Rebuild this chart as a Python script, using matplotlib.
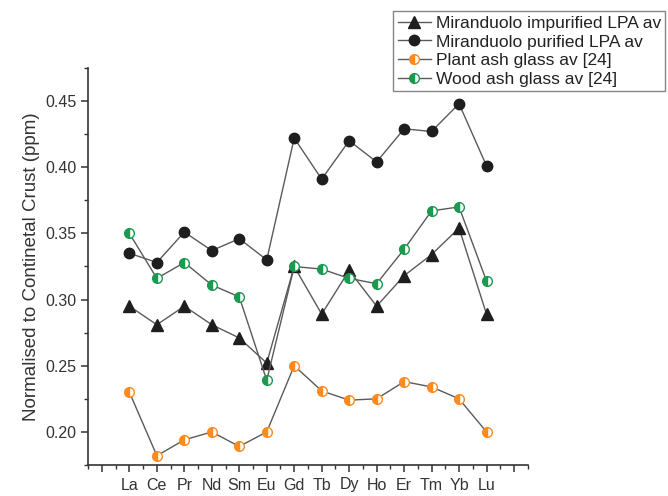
import matplotlib
matplotlib.use("Agg")
import matplotlib.pyplot as plt
from matplotlib.ticker import MultipleLocator

plt.rcParams['font.family'] = ['Liberation Sans', 'DejaVu Sans']

# ---------------------- Data --------------------------- #

elements = ["La", "Ce", "Pr", "Nd", "Sm", "Eu", "Gd", "Tb", "Dy", "Ho", "Er", "Tm", "Yb", "Lu"]

impurified = [0.295, 0.281, 0.295, 0.281, 0.271, 0.252, 0.325, 0.289, 0.322, 0.295, 0.318, 0.334, 0.354, 0.289]
purified = [0.335, 0.328, 0.351, 0.337, 0.346, 0.330, 0.422, 0.391, 0.420, 0.404, 0.429, 0.427, 0.448, 0.401]
plant_ash = [0.230, 0.182, 0.194, 0.200, 0.189, 0.200, 0.250, 0.231, 0.224, 0.225, 0.238, 0.234, 0.225, 0.200]
wood_ash = [0.350, 0.316, 0.328, 0.311, 0.302, 0.239, 0.325, 0.323, 0.316, 0.312, 0.338, 0.367, 0.370, 0.314]

# ---------------------- Plot --------------------------- #

x = list(range(1, len(elements) + 1))
LINE = '#5a5a5a'
ORANGE = '#ff8a1e'
GREEN = '#1a9a4e'

fig = plt.figure(figsize=(6.68, 4.96), dpi=100)
ax = fig.add_axes([0.132, 0.0625, 0.658, 0.8005])

ax.plot(x, impurified, color=LINE, lw=1, marker='^', ms=8, mfc='#1e1e1e', mec='#1e1e1e',
        label='Miranduolo impurified LPA av')
ax.plot(x, purified, color=LINE, lw=1, marker='o', ms=7.5, mfc='#1e1e1e', mec='#1e1e1e',
        label='Miranduolo purified LPA av')
ax.plot(x, plant_ash, color=LINE, lw=1, marker='o', ms=7, fillstyle='left', mfc=ORANGE,
        mfcalt='white', mec=ORANGE, mew=1, label='Plant ash glass av [24]')
ax.plot(x, wood_ash, color=LINE, lw=1, marker='o', ms=7, fillstyle='left', mfc=GREEN,
        mfcalt='white', mec=GREEN, mew=1, label='Wood ash glass av [24]')

ax.set_xlim(-0.5, 15.5)
ax.set_ylim(0.175, 0.475)
ax.set_xticks(range(0, 16))
ax.set_xticklabels([''] + elements + [''])
ax.xaxis.set_minor_locator(MultipleLocator(0.5))
ax.yaxis.set_major_locator(MultipleLocator(0.05))
ax.yaxis.set_minor_locator(MultipleLocator(0.025))
ax.yaxis.set_major_formatter(matplotlib.ticker.FormatStrFormatter('%.2f'))

for s in ['top', 'right']:
    ax.spines[s].set_visible(False)
for s in ['left', 'bottom']:
    ax.spines[s].set_color('#333333')
    ax.spines[s].set_linewidth(1.2)

ax.tick_params(which='major', direction='out', length=5, width=1.1, color='#333333',
               labelsize=11.5, labelcolor='#333333')
ax.tick_params(which='minor', direction='out', length=3, width=1.0, color='#333333')
ax.tick_params(axis='x', pad=4)

ax.set_ylabel('Normalised to Continetal Crust (ppm)', fontsize=13.5, color='#333333')

leg = fig.legend(loc='upper right', bbox_to_anchor=(0.996, 0.977), fontsize=12.5,
                 frameon=True, fancybox=False, handlelength=1.9, handletextpad=0.3,
                 borderpad=0.25, labelspacing=0.2, borderaxespad=0)
leg.get_frame().set_edgecolor('#666666')
leg.get_frame().set_linewidth(1.0)
for t in leg.get_texts():
    t.set_color('#222222')

fig.savefig('out.png', dpi=100)
